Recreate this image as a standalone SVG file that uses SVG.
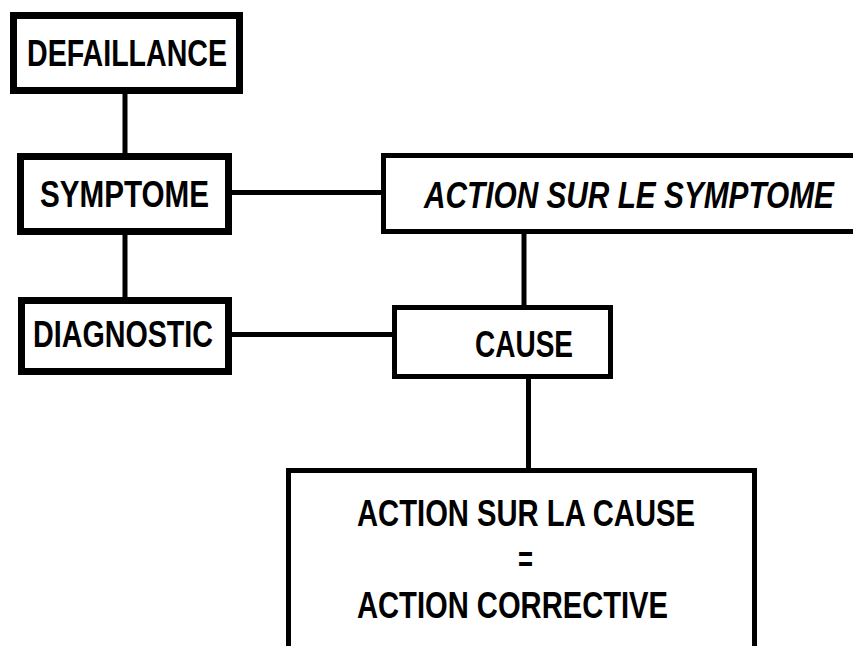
<svg xmlns="http://www.w3.org/2000/svg" width="853" height="646" viewBox="0 0 853 646">
  <style>
    .box { fill: #fff; stroke: #000; }
    .heavy { stroke-width: 7; }
    .light { stroke-width: 5; }
    .wire { stroke: #000; stroke-width: 5; fill: none; }
    .lbl { font-family: "Liberation Sans", Arial, sans-serif; font-weight: bold; font-size: 37px; fill: #000; }
    .it { font-style: italic; }
  </style>
  <rect width="853" height="646" fill="#fff"/>

  <!-- links between the steps -->
  <g id="connectors">
    <line class="wire" x1="125" y1="92" x2="125" y2="155"/>
    <line class="wire" x1="125" y1="233" x2="125" y2="299"/>
    <line class="wire" x1="230" y1="192.5" x2="384" y2="192.5"/>
    <line class="wire" x1="524" y1="233" x2="524" y2="308"/>
    <line class="wire" x1="230" y1="334.5" x2="395" y2="334.5"/>
    <line class="wire" x1="528.5" y1="377" x2="528.5" y2="471"/>
  </g>

  <g id="defaillance">
    <rect class="box heavy" x="13.5" y="15.5" width="226" height="75"/>
    <text class="lbl" x="27" y="66" textLength="200" lengthAdjust="spacingAndGlyphs">DEFAILLANCE</text>
  </g>

  <g id="symptome">
    <rect class="box heavy" x="20.5" y="156.5" width="208" height="75"/>
    <text class="lbl" x="40" y="207" textLength="169" lengthAdjust="spacingAndGlyphs">SYMPTOME</text>
  </g>

  <!-- this box runs on past the right border -->
  <g id="action-symptome">
    <rect class="box light" x="383.5" y="155.5" width="474" height="76"/>
    <text class="lbl it" x="424" y="208" textLength="410" lengthAdjust="spacingAndGlyphs">ACTION SUR LE SYMPTOME</text>
  </g>

  <g id="diagnostic">
    <rect class="box heavy" x="21.5" y="300.5" width="207" height="71"/>
    <text class="lbl" x="33" y="347" textLength="180" lengthAdjust="spacingAndGlyphs">DIAGNOSTIC</text>
  </g>

  <g id="cause">
    <rect class="box light" x="394.5" y="307.5" width="216" height="69"/>
    <text class="lbl" x="475" y="357" textLength="98" lengthAdjust="spacingAndGlyphs">CAUSE</text>
  </g>

  <!-- this box runs on past the bottom border -->
  <g id="action-cause">
    <rect class="box light" x="288.5" y="470.5" width="466" height="200"/>
    <text class="lbl" x="357" y="526" textLength="338" lengthAdjust="spacingAndGlyphs">ACTION SUR LA CAUSE</text>
    <text class="lbl" x="518" y="572" textLength="15" lengthAdjust="spacingAndGlyphs">=</text>
    <text class="lbl" x="357" y="618" textLength="311" lengthAdjust="spacingAndGlyphs">ACTION CORRECTIVE</text>
  </g>
</svg>
